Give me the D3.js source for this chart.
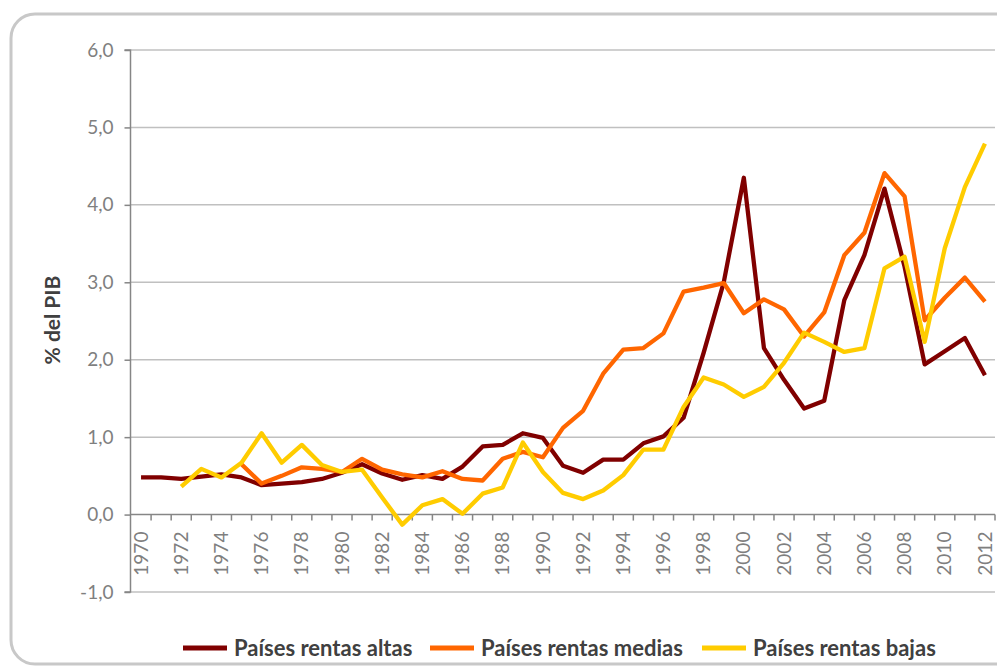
<html>
  <head>
    <meta charset="utf-8"/>
    <style>
      body {
        margin: 0;
        background: white;
      }
      .tick text, .xlab {
        font-family: Lato, "Open Sans", sans-serif;
        font-size: 19px;
        fill: #7f7f7f;
      }
      .grid {
        stroke: #c0c0c0;
        stroke-width: 1.5;
      }
      .axis {
        stroke: #868686;
        stroke-width: 1.5;
      }
      .serie {
        fill: none;
        stroke-width: 4.3;
        stroke-linejoin: round;
      }
      .leg {
        font-family: Lato, sans-serif;
        font-weight: bold;
        font-size: 22px;
        fill: #404040;
      }
    </style>
    <script src="https://d3js.org/d3.v7.min.js"></script>
  </head>
  <body>
    <script>
    var width = 997, height = 666;

    var years = d3.range(1970, 2013);
    var yTicks = [-1, 0, 1, 2, 3, 4, 5, 6];

    var altas = [0.48, 0.48, 0.46, 0.49, 0.52, 0.48, 0.38, 0.40, 0.42, 0.46,
                 0.54, 0.65, 0.53, 0.45, 0.51, 0.46, 0.62, 0.88, 0.90, 1.05,
                 0.99, 0.63, 0.54, 0.71, 0.71, 0.92, 1.01, 1.25, 2.09, 3.00,
                 4.35, 2.15, 1.74, 1.37, 1.47, 2.77, 3.35, 4.21, 3.20, 1.94,
                 2.11, 2.28, 1.80];
    var medias = [null, null, null, null, null, 0.65, 0.40, 0.50, 0.61, 0.59,
                  0.55, 0.72, 0.58, 0.52, 0.48, 0.56, 0.46, 0.44, 0.72, 0.81,
                  0.74, 1.12, 1.34, 1.82, 2.13, 2.15, 2.34, 2.88, 2.93, 2.99,
                  2.60, 2.78, 2.65, 2.30, 2.61, 3.35, 3.64, 4.41, 4.11, 2.51,
                  2.80, 3.06, 2.75];
    var bajas = [null, null, 0.36, 0.59, 0.48, 0.67, 1.05, 0.67, 0.90, 0.64,
                 0.55, 0.58, 0.22, -0.13, 0.12, 0.20, 0.01, 0.27, 0.35, 0.93,
                 0.55, 0.28, 0.20, 0.31, 0.51, 0.84, 0.84, 1.39, 1.77, 1.68,
                 1.52, 1.65, 1.96, 2.35, 2.23, 2.10, 2.15, 3.18, 3.33, 2.23,
                 3.44, 4.23, 4.79];

    var series = [
      {name: "Países rentas altas", color: "#800000", values: altas},
      {name: "Países rentas medias", color: "#ff6600", values: medias},
      {name: "Países rentas bajas", color: "#ffcc00", values: bajas}
    ];

    var svg = d3.select("body").append("svg")
                .attr("width", width).attr("height", height);

    // marco redondeado
    svg.append("rect")
       .attr("x", 11).attr("y", 14)
       .attr("width", 1010).attr("height", 650)
       .attr("rx", 24)
       .attr("fill", "none")
       .attr("stroke", "#c8c8c8")
       .attr("stroke-width", 3);

    var x = d3.scaleBand().domain(years).range([131, 995]);
    var y = d3.scaleLinear().domain([-1, 6]).range([592, 50]);
    var cx = d => x(d) + x.bandwidth() / 2;

    // grid
    svg.append("g").selectAll("line")
       .data(yTicks.filter(d => d != 0))
       .enter().append("line")
       .attr("class", "grid")
       .attr("x1", 131).attr("x2", 995)
       .attr("y1", d => y(d)).attr("y2", d => y(d));

    // eje y
    var fmt = d3.format(".1f");
    var yAxis = svg.append("g")
       .attr("transform", "translate(130.5,0)")
       .call(d3.axisLeft(y).tickValues(yTicks).tickSize(6).tickPadding(11)
             .tickFormat(d => fmt(d).replace(".", ",").replace("\u2212", "-")));
    yAxis.selectAll("path, line").attr("stroke", "#868686").attr("stroke-width", 1.5);
    yAxis.select(".domain").attr("d", "M-6," + y(6) + "H0V" + y(-1) + "H-6");

    // eje x en 0
    svg.append("line").attr("class", "axis")
       .attr("x1", 131).attr("x2", 995)
       .attr("y1", y(0)).attr("y2", y(0));
    svg.append("g").selectAll("line")
       .data(years.slice(1).map(d => x(d)).concat([995]))
       .enter().append("line")
       .attr("class", "axis")
       .attr("x1", d => d).attr("x2", d => d)
       .attr("y1", y(0)).attr("y2", y(0) + 6);
    svg.append("g").selectAll("text")
       .data(years.filter(d => d % 2 == 0))
       .enter().append("text")
       .attr("class", "xlab")
       .attr("text-anchor", "end")
       .attr("dy", "0.35em")
       .attr("transform", d => "translate(" + cx(d) + "," + (y(0) + 17) + ") rotate(-90)")
       .text(d => d);

    // titulo eje
    svg.append("text")
       .attr("class", "leg")
       .attr("fill", "#262626")
       .style("font-size", "21px")
       .attr("text-anchor", "middle")
       .attr("transform", "translate(60,320) rotate(-90)")
       .text("% del PIB");

    // lineas
    var line = d3.line()
                 .defined(d => d.v != null)
                 .x(d => cx(d.year))
                 .y(d => y(d.v));
    svg.append("g").selectAll("path")
       .data(series)
       .enter().append("path")
       .attr("class", "serie")
       .attr("stroke", d => d.color)
       .attr("d", d => line(d.values.map((v, i) => ({year: years[i], v: v}))));

    // leyenda
    var legX = [183, 430, 702];
    var leg = svg.append("g").selectAll("g")
       .data(series)
       .enter().append("g")
       .attr("transform", (d, i) => "translate(" + legX[i] + ",648)");
    leg.append("line")
       .attr("x1", 0).attr("x2", 44)
       .attr("stroke", d => d.color)
       .attr("stroke-width", 5);
    leg.append("text")
       .attr("class", "leg")
       .attr("x", 51).attr("dy", "0.36em")
       .text(d => d.name);
    </script>
  </body>
</html>
